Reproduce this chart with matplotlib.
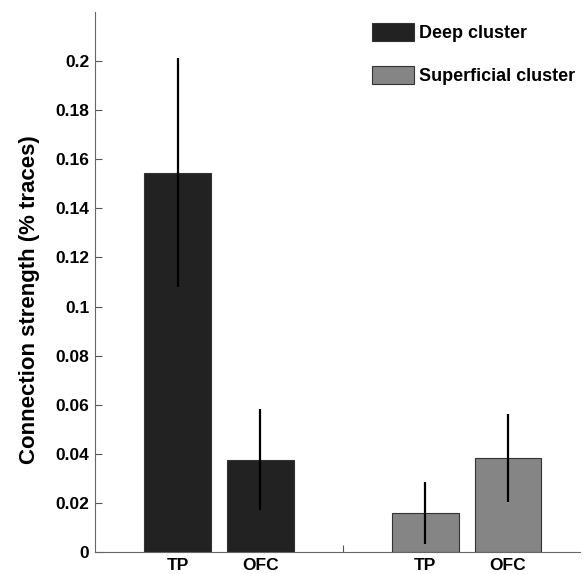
import numpy as np
import matplotlib.pyplot as plt

plt.rcParams['font.family'] = ['Liberation Sans', 'DejaVu Sans']
plt.rcParams['font.weight'] = 'bold'

# data
regions = ['TP', 'OFC']
clusters = ['Deep cluster', 'Superficial cluster']
means = [[0.1546, 0.0376], [0.0160, 0.0383]]
errs = [[0.0466, 0.0205], [0.0127, 0.0178]]
colors = ['#222222', '#858585']

fig = plt.figure(figsize=(5.85, 5.74), dpi=100)
ax = fig.add_axes([95 / 585, 22 / 574, 485 / 585, 540 / 574])

group_x = np.array([1.0, 2.0])
offs = [-0.1667, 0.1667]
width = 0.269

handles = []
for g in range(2):
    xs = group_x[g] + np.array(offs)
    b = ax.bar(xs, means[g], width=width, color=colors[g], edgecolor='#333333',
               linewidth=0.8, label=clusters[g])
    ax.errorbar(xs, means[g], yerr=errs[g], fmt='none', ecolor='black',
                elinewidth=1.6, capsize=0)
    handles.append(b)

ax.set_xlim(0.5, 2.457)
ax.set_ylim(0, 0.22)
ax.set_yticks(np.arange(0, 0.201, 0.02))
ax.set_yticklabels(['0', '0.02', '0.04', '0.06', '0.08', '0.1', '0.12',
                    '0.14', '0.16', '0.18', '0.2'])
ax.set_xticks([1.5])
ax.set_xticklabels([''])
for g in range(2):
    for i, r in enumerate(regions):
        ax.text(group_x[g] + offs[i], -0.0075, r, ha='center', va='baseline',
                fontsize=12.5, fontweight='bold')

ax.tick_params(axis='both', direction='in', length=5, width=0.8, color='#555555',
               labelsize=12.5, pad=4)
ax.spines['top'].set_visible(False)
ax.spines['right'].set_visible(False)
ax.spines['left'].set_color('#666666')
ax.spines['bottom'].set_color('#666666')

ax.set_ylabel('Connection strength (% traces)', fontsize=16, fontweight='bold')
ax.yaxis.set_label_coords(-0.113, 0.468)

ax.legend(handles=handles, loc='upper left', bbox_to_anchor=(0.571, 0.98),
          frameon=False, fontsize=13, handlelength=2.33, handleheight=1.15,
          labelspacing=1.35, handletextpad=0.25, borderpad=0, borderaxespad=0)

fig.savefig('out.png', dpi=100)
